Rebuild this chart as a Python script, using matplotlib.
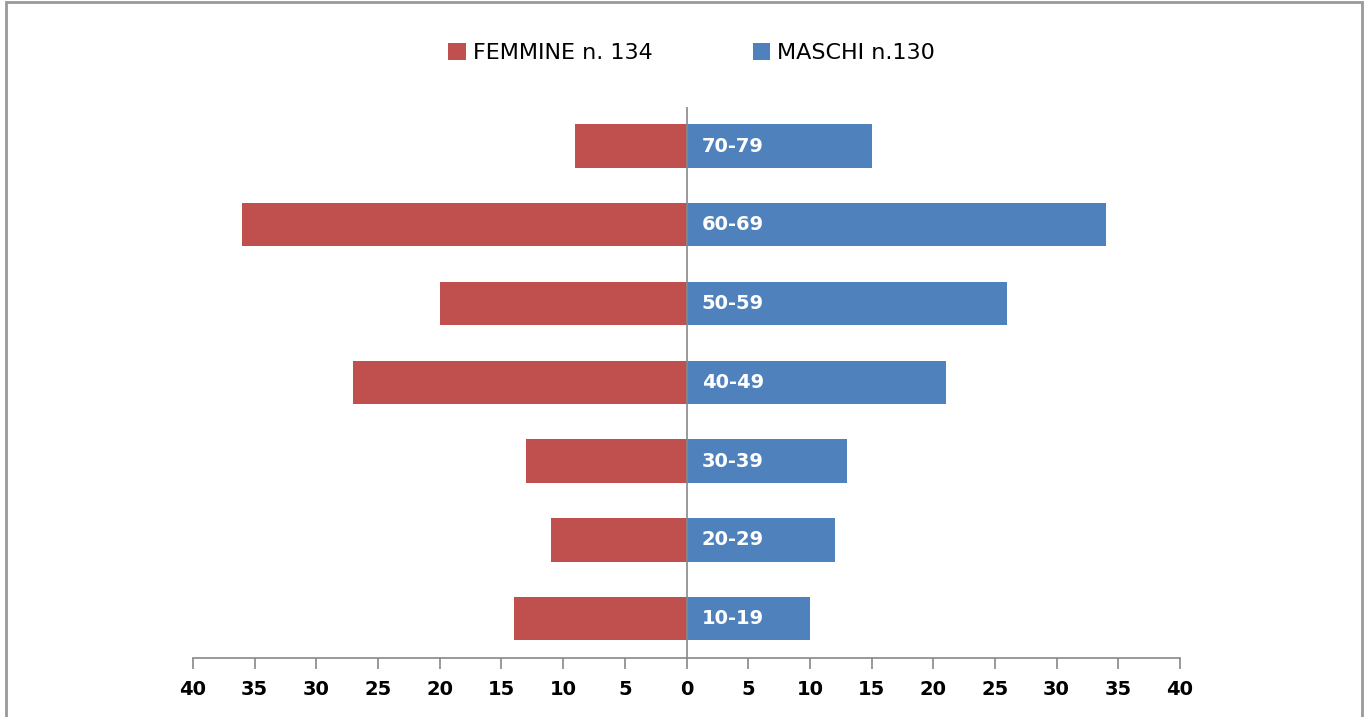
import matplotlib.pyplot as plt
from matplotlib.patches import Rectangle

age_groups = ['10-19', '20-29', '30-39', '40-49', '50-59', '60-69', '70-79']
femmine = [14, 11, 13, 27, 20, 36, 9]
maschi = [10, 12, 13, 21, 26, 34, 15]
tick_values = [-40, -35, -30, -25, -20, -15, -10, -5, 0, 5, 10, 15, 20, 25, 30, 35, 40]
tick_labels = ['40', '35', '30', '25', '20', '15', '10', '5', '0', '5', '10', '15', '20', '25', '30', '35', '40']

red = '#C0504D'
blue = '#4F81BD'
grey = '#888888'

fig = plt.figure(figsize=(13.67, 7.17), dpi=100)
ax = fig.add_axes([0.1412, 0.0823, 0.722, 0.769])

y = list(range(len(age_groups)))
ax.barh(y, [-v for v in femmine], height=0.55, color=red, label='FEMMINE n. 134')
ax.barh(y, maschi, height=0.55, color=blue, label='MASCHI n.130')

for i, name in enumerate(age_groups):
    ax.annotate(name, (0, i), xytext=(11, 0), textcoords='offset points',
                ha='left', va='center', color='white', fontsize=14, fontweight='bold')

ax.set_xlim(-40, 40)
ax.set_ylim(-0.5, len(age_groups) - 0.5)
ax.axvline(0, color=grey, lw=1.2, zorder=3)

ax.set_xticks(tick_values)
ax.set_xticklabels(tick_labels, fontsize=14, fontweight='bold')
ax.set_yticks([])
ax.tick_params(axis='x', direction='out', length=8, width=1.2, color=grey, pad=8)
for s in ['top', 'right', 'left']:
    ax.spines[s].set_visible(False)
ax.spines['bottom'].set_color(grey)
ax.spines['bottom'].set_linewidth(1.2)

fig.legend(loc='center', bbox_to_anchor=(0.506, 0.926), ncol=2, frameon=False,
           fontsize=16, handlelength=0.8, handleheight=0.8, handletextpad=0.3,
           columnspacing=4.5)

# outer chart frame
fig.patches.append(Rectangle((0.0045, -0.05), 0.992, 1.047, transform=fig.transFigure,
                             fill=False, edgecolor='#999999', lw=2))

plt.savefig('out.png', dpi=100)
